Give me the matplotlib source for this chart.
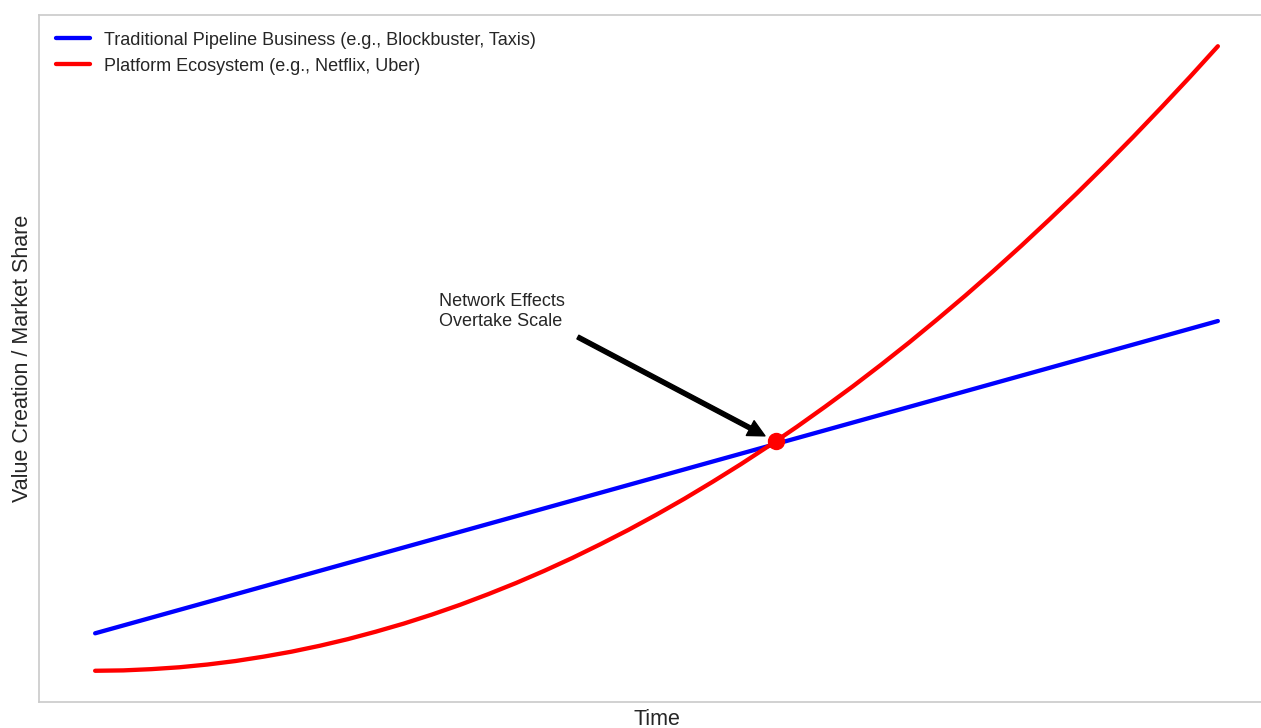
import numpy as np
import matplotlib.pyplot as plt

# Values
time = [0, 0.25, 0.5, 0.75, 1, 1.25, 1.5, 1.75, 2, 2.25, 2.5, 2.75, 3, 3.25, 3.5,
        3.75, 4, 4.25, 4.5, 4.75, 5, 5.25, 5.5, 5.75, 6, 6.25, 6.5, 6.75, 7,
        7.25, 7.5, 7.75, 8, 8.25, 8.5, 8.75, 9, 9.25, 9.5, 9.75, 10]
pipeline_time = [0, 2, 4, 6, 8, 10]
pipeline = [3.0, 8.0, 13.0, 18.0, 23.0, 28.0]
platform = [0.0, 0.03, 0.13, 0.28, 0.5, 0.78, 1.13, 1.53, 2.0, 2.53, 3.13,
            3.78, 4.5, 5.28, 6.13, 7.03, 8.0, 9.03, 10.13, 11.28, 12.5,
            13.78, 15.13, 16.53, 18.0, 19.53, 21.13, 22.78, 24.5, 26.28,
            28.13, 30.03, 32.0, 34.03, 36.13, 38.28, 40.5, 42.78, 45.13,
            47.53, 50.0]
cross_x, cross_y = 6.06, 18.36
note_x, note_y = 3.06, 27.6

plt.rcParams['font.family'] = ['Liberation Sans', 'DejaVu Sans']
plt.rcParams['text.color'] = '#262626'
plt.rcParams['axes.labelcolor'] = '#262626'
plt.rcParams['lines.solid_capstyle'] = 'round'

fig = plt.figure(figsize=(12.61, 7.28), dpi=100)
ax = fig.add_axes([39 / 1261, 26 / 728, 1235 / 1261, 687 / 728])

ax.plot(pipeline_time, pipeline, color='#0000ff', lw=3.1,
        label='Traditional Pipeline Business (e.g., Blockbuster, Taxis)')
ax.plot(time, platform, color='#ff0000', lw=3.1,
        label='Platform Ecosystem (e.g., Netflix, Uber)')
ax.plot(cross_x, cross_y, 'o', color='#ff0000', markersize=11.5)

ax.annotate('Network Effects\nOvertake Scale', xy=(cross_x, cross_y),
            xytext=(note_x, note_y), fontsize=13, color='#262626',
            arrowprops=dict(facecolor='black', shrink=0.05, width=3, headwidth=12))

ax.set_xticks([])
ax.set_yticks([])
ax.set_xlabel('Time', fontsize=15.5, labelpad=5)
ax.set_ylabel('Value Creation / Market Share', fontsize=15.5, labelpad=4.5)

for s in ax.spines.values():
    s.set_color('#cccccc')
    s.set_linewidth(1.25)

ax.legend(loc='upper left', frameon=False, fontsize=13, handlelength=1.9,
          borderaxespad=0.52)

fig.savefig('out.png', dpi=100)
